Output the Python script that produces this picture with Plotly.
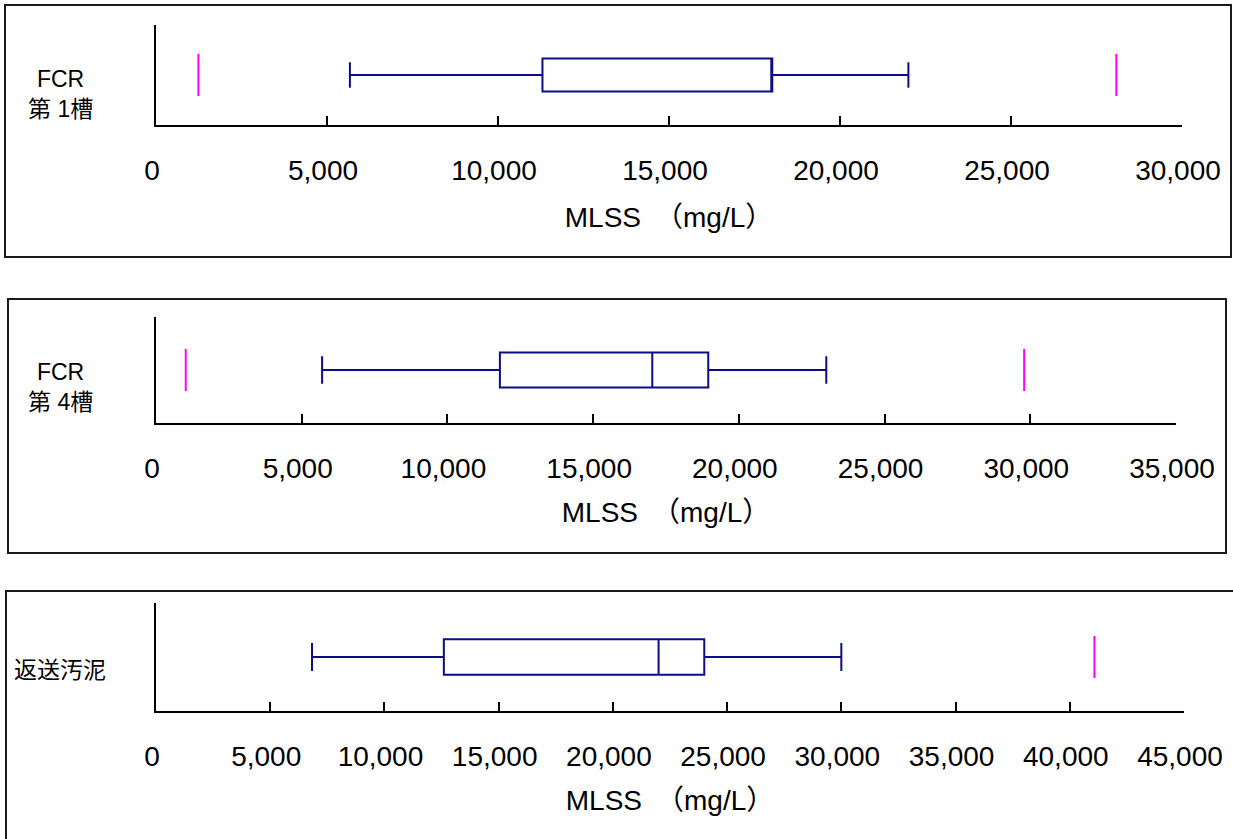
import plotly.graph_objects as go

W, H = 1233, 839

# ---- data ----
categories = ["FCR<br>第 1槽", "FCR<br>第 4槽", "返送汚泥"]
lower_whisker = [5670, 5700, 6830]
q1_vals = [11300, 11800, 12600]
median_vals = [18020, 17030, 22000]
q3_vals = [18020, 18950, 24000]
upper_whisker = [22000, 23000, 30000]
min_outlier = [1240, 1020, None]
max_outlier = [28080, 29790, 41080]
axis_max = [30000, 35000, 45000]
x_title = "MLSS　（mg/L）"

# ---- layout geometry (pixels) ----
x_left = [156, 156, 156]
x_right = [1182, 1176, 1184]
y_top = [25, 317, 603]
y_bot = [125, 423, 711]
frames = [(5, 5, 1231, 257), (8, 299, 1226, 553), (6, 591, 1245, 860)]
label_y = [0.31, 0.34, 0.38]
title_standoff = [23, 20, 20]

def px(x):
    return x / W

def py(y):
    return 1 - y / H

NAVY = "#0c0c85"
MAG = "#ff00ff"

fig = go.Figure()
layout = dict(width=W, height=H, margin=dict(l=0, r=0, t=0, b=0, autoexpand=False), autosize=False,
              paper_bgcolor="white", plot_bgcolor="white", showlegend=False,
              font=dict(family="Liberation Sans, Arial, sans-serif", color="black"))
shapes = []
annotations = []

for i in range(3):
    sfx = "" if i == 0 else str(i + 1)
    xa, ya = "x" + sfx, "y" + sfx
    fig.add_trace(go.Box(
        y=[0.5], q1=[q1_vals[i]], median=[median_vals[i]], q3=[q3_vals[i]],
        lowerfence=[lower_whisker[i]], upperfence=[upper_whisker[i]],
        orientation="h", boxpoints=False, width=0.33, whiskerwidth=0.78,
        line=dict(color=NAVY, width=2), fillcolor="rgba(255,255,255,0)",
        xaxis=xa, yaxis=ya, hoverinfo="skip"))
    ox = [v for v in (min_outlier[i], max_outlier[i]) if v is not None]
    fig.add_trace(go.Scatter(
        x=ox, y=[0.5] * len(ox), mode="markers",
        marker=dict(symbol="line-ns", size=30, line=dict(color=MAG, width=2)),
        xaxis=xa, yaxis=ya, hoverinfo="skip"))

    layout["xaxis" + sfx] = dict(
        domain=[px(x_left[i]), px(x_right[i])], anchor=ya, automargin=False,
        range=[0, axis_max[i]], dtick=5000, tick0=0, tickformat=",d",
        showline=True, linecolor="black", linewidth=2,
        ticks="inside", ticklen=9, tickwidth=2, tickcolor="black",
        showgrid=False, zeroline=False,
        tickfont=dict(size=28, family="Liberation Sans, Arial, sans-serif"),
        ticklabelstandoff=19, ticklabelshift=-4,
        title=dict(text=x_title, standoff=title_standoff[i],
                   font=dict(size=28, family="Liberation Sans, Noto Sans CJK JP, sans-serif")))
    layout["yaxis" + sfx] = dict(
        domain=[py(y_bot[i]), py(y_top[i])], anchor=xa, automargin=False,
        range=[0, 1], showline=True, linecolor="black", linewidth=2,
        showticklabels=False, ticks="", showgrid=False, zeroline=False)

    fx0, fy0, fx1, fy1 = frames[i]
    shapes.append(dict(type="rect", xref="paper", yref="paper",
                       x0=px(fx0), x1=px(fx1), y0=py(fy1), y1=py(fy0),
                       line=dict(color="#1a1a1a", width=2), fillcolor="rgba(0,0,0,0)",
                       layer="below"))
    annotations.append(dict(text=categories[i], xref="paper", yref=ya + " domain",
                            x=px(60), y=label_y[i], xanchor="center", yanchor="middle",
                            showarrow=False, align="center",
                            font=dict(size=23, family="Liberation Sans, Noto Sans CJK JP, sans-serif")))

layout["shapes"] = shapes
layout["annotations"] = annotations
fig.update_layout(**layout)
fig.write_html("out.html")
